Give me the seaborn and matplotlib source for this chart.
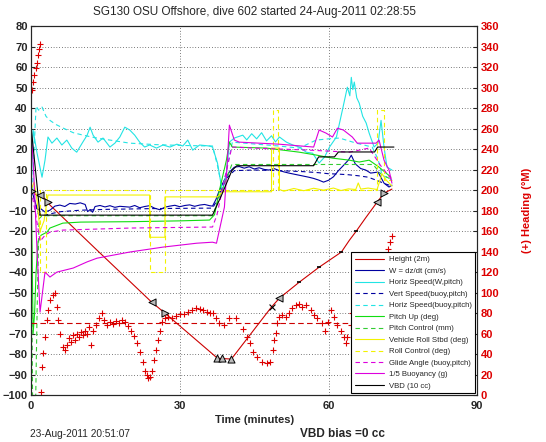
import matplotlib
matplotlib.use("Agg")
import matplotlib.pyplot as plt
import seaborn as sns

# ---- data (time in minutes, left-axis units) ----
height_t = [0, 0.8, 2.4, 3.4, 3.8, 13.3, 24.3, 27.0, 37.6, 40.4, 48.5, 50.1,
            54.1, 58.1, 62.6, 64.2, 65.6, 67.5, 69.8, 71.2, 72.8]
height_v = [0, -2, -3.4, -5.9, -7.3, -29.3, -54.6, -60, -82, -82.4, -57, -52.7,
            -44.9, -37.6, -30.2, -24.5, -20, -13.5, -5.9, -1.5, 0.5]

w_t = [0, 0.4, 1.0, 1.4, 1.8, 2.8, 3.8, 4.8, 5.8, 6.8,
       7.8, 8.9, 9.9, 10.9, 11.4, 11.9, 12.4, 12.9, 13.9, 14.9,
       15.9, 16.9, 17.9, 18.9, 19.9, 20.9, 21.9, 22.9, 23.9, 24.9,
       26, 27, 28, 29, 30, 31, 32, 33, 34, 35,
       36, 36.6, 37.3, 38, 39, 40, 41, 42, 43, 44,
       45, 46, 47, 48, 49, 50, 51, 52, 53, 54,
       55, 56, 57, 58, 59, 60, 61, 62, 63, 64,
       64.6, 65.4, 66.5, 67.5, 68.5, 70, 71.2, 72.2, 72.8]
w_v = [0, -2.4, -7.3, -9.8, -8.8, -10.7, -9.8, -7.8, -7.3, -8.0,
       -6.5, -6.8, -6.2, -7.0, -10.5, -9.5, -10.8, -8.0, -7.5, -8.2,
       -7.6, -8.4, -7.9, -8.1, -8.3, -7.5, -8.6, -8.0, -7.6, -8.8,
       -9.6, -8.3, -7.8, -7.4, -8.1, -7.5, -7.2, -7.9, -7.3, -7.0,
       -7.6, -7.8, -4.5, 0.0, 5.0, 8.8, 11.2, 11.5, 10.7, 11.4,
       10.3, 10.9, 10.1, 9.8, 10.5, 9.6, 8.9, 8.3, 7.8, 7.3,
       6.8, 6.3, 5.7, 4.9, 3.9, 4.8, 6.5, 9.5, 12.0, 14.6,
       17.0, 12.8, 10.5, 9.8, 8.3, 8.8, 3.4, 1.5, 2.4]

hspd_t = [0, 0.4, 1.2, 2.2, 2.8, 3.4, 4.2, 5.2, 6.2, 7.2,
          8.2, 9.2, 10.3, 11.3, 11.9, 12.5, 13.5, 14.5, 15.9, 16.9,
          17.9, 18.9, 19.9, 20.9, 21.9, 22.9, 23.9, 25.3, 26.6, 28.0,
          29.4, 30.6, 31.6, 32.6, 34.0, 36.0, 36.6, 37.6, 38.6, 39.4,
          40.0, 41.0, 42.7, 43.5, 44.5, 45.5, 46.5, 47.5, 48.5, 49.3,
          50.1, 51.5, 52.8, 54.1, 55.5, 56.8, 58.1, 59.2, 60.2, 61.6,
          62.8, 63.8, 64.3, 64.6, 64.9, 65.2, 65.7, 66.2, 66.9, 67.6,
          68.2, 69.2, 70.0, 70.6, 71.2, 71.8, 72.8]
hspd_v = [0, 29.3, 18, 6.3, 14.6, 25.9, 22.9, 25.4, 22, 24.4,
          20.5, 18.5, 22.9, 26.8, 30.7, 26.8, 23.4, 25.4, 21, 22.9,
          25.9, 30.7, 29.3, 26.8, 23.4, 21, 22, 20.5, 22, 21,
          22.4, 21.5, 24.4, 19.5, 22, 21.5, 21, 13.2, -1, 8.3,
          23.4, 25.4, 26.8, 24.5, 27.5, 25.0, 28.0, 24.0, 26.5, 23.5,
          25.9, 23.4, 22.0, 21, 18.5, 18, 13.2, 16.1, 21, 25.9,
          39, 50.2, 46, 55, 49, 52.7, 45, 42.4, 36, 32.7,
          27.8, 21, 22.9, 34, 21, 11.2, 9.8]

vsb_t = [0, 0.5, 1.0, 1.5, 2.5, 4, 6, 10, 15, 20,
         25, 30, 35, 36.6, 37.5, 38.5, 39.5, 41, 45, 50,
         55, 58, 60, 62, 64, 66, 68, 70, 71.5, 72.8]
vsb_v = [0, -3, -8, -12, -12.5, -11.5, -10.5, -9.8, -9.4, -9.2,
         -9.0, -8.9, -8.8, -8.8, -5, 1, 6, 9.5, 9.8, 9.5,
         9.0, 8.5, 8.0, 7.8, 7.5, 7.0, 6.3, 4.5, 3.0, 2.0]

hsb_t = [0.3, 0.6, 1.0, 1.5, 2.2, 3.0, 3.8, 5.0, 6.5, 8.5,
         10.5, 13, 15.9, 19.9, 25, 30, 36.6, 37.6, 38.6, 39.6,
         40.6, 45, 50, 54.1, 57.5, 60, 62.2, 65.6, 68.8, 70.0,
         70.8, 72.8]
hsb_v = [0, 20, 41, 39, 40.5, 36, 34, 32, 30.2, 28,
         26.8, 25.5, 24.4, 22.9, 22.2, 21.8, 21.5, 12, 0, 12,
         23.4, 22.5, 21.5, 20.5, 24.4, 25.0, 25.4, 22.9, 21, 15,
         7.3, 4.9]

pitch_t = [0, 0.2, 0.4, 0.7, 1.0, 1.4, 2.0, 3.2, 3.8, 6.4,
           10, 20, 30, 36.0, 37.0, 38.0, 39.4, 40.0, 40.6, 47.5,
           54.1, 57.5, 60.8, 64.2, 66.2, 68.2, 70.2, 72.6]
pitch_v = [0, -30, -70, -60, -40, -25, -22, -20.5, -18.5, -16.1,
           -15.6, -15.4, -15.0, -14.6, -12, 0, 14.6, 23.4, 21, 20.5,
           18.5, 17.1, 15.6, 14.6, 13.7, 14.6, 11.2, 6.3]

pctl_t = [0, 0.3, 0.9, 1.2, 1.6, 2.2, 36.6, 38.5, 40.5, 69.0, 70.5, 72.8]
pctl_v = [0, -105, -105, -60, -14, -12.5, -12.5, 0, 12.5, 12.5, 8, 5]

roll_t = [0, 0.6, 1.2, 1.8, 2.6, 3.4, 23.9, 23.9, 27.0, 27.0,
          37.6, 38.6, 48.5, 48.5, 50.1, 50.1, 51, 53, 55, 57,
          59, 61, 62.5, 64, 65.5, 66, 66.5, 68, 69.8, 70.8, 71.6, 72.8]
roll_v = [0, 3.9, -5, -20, -15, -2.4, -2.4, -23, -23, -3.3,
          -3.3, -0.8, -0.8, 20.5, 20.5, 0.3, -0.5, 0.8, -0.3, 0.9,
          0.0, 1.0, -0.2, 0.6, 0.3, 3.5, 0.5, 1.0, 0.3, 8, 5, 2]

rctl_t = [0, 1.8, 1.8, 3.0, 3.0, 23.9, 23.9, 27.0, 27.0, 37.6,
          48.7, 48.7, 49.9, 49.9, 69.8, 69.8, 71.2, 71.2, 72.8]
rctl_v = [0, 0, -40, -40, 0.2, 0.2, -40, -40, 0.2, 0.2,
          0.2, 39, 39, 0.2, 0.2, 39, 39, 5, 5]

glide_t = [0, 0.8, 1.8, 2.8, 3.8, 6.4, 20, 36.6, 37.5, 39,
           40.5, 45, 56.1, 64.2, 68.2, 70.5, 72.8]
glide_v = [0, -10, -25, -22, -20.5, -19.5, -18.5, -18, -12, 5,
           21, 20.5, 19.5, 18.5, 20.5, 12, 5]

buoy_t = [0, 0.5, 1.2, 1.8, 2.8, 3.8, 5.2, 8.5, 11.3, 13.3,
          19.9, 26.6, 33.4, 36.6, 37.4, 39.0, 39.6, 40.0, 41.0, 42.0,
          50.0, 57.0, 58.1, 59.5, 60.8, 61.8, 63.0, 64.8, 65.8, 69.6,
          70.2, 71.2, 72.2, 72.8]
buoy_v = [30, 10, -30, -59.5, -40, -42.4, -40, -38, -35, -33.2,
          -30.2, -27.8, -25.9, -25.4, -25.9, -8.3, 14.6, 31.7, 24.4, 23.4,
          22.4, 21, 29.3, 27.8, 25.9, 30.2, 29.3, 25.9, 22.9, 22.9,
          24.4, 14.6, 9.8, 3.4]

vbd_t = [0, 1.8, 36.6, 38.5, 40.5, 41.5, 57.0, 58.0, 61.2, 62.0, 69.3, 69.9, 73.2]
vbd_v = [30.7, -12.2, -12.2, -2, 9.5, 11.9, 11.9, 16.2, 16.2, 18.6, 18.6, 21, 21]

# heading (right axis, degrees magnetic)
head_t = [0.2, 0.4, 0.6, 1.0, 1.2, 1.4, 1.6, 1.8, 2.0, 2.2,
          2.4, 2.8, 3.2, 3.4, 3.8, 4.4, 4.8, 5.2, 5.4, 5.8,
          6.4, 6.8, 7.2, 7.6, 8.0, 8.5, 8.9, 9.3, 9.7, 10.1,
          10.5, 10.9, 11.3, 11.7, 12.1, 12.5, 13.1, 13.7, 14.3, 14.7,
          15.3, 15.9, 16.5, 17.1, 17.7, 18.3, 18.9, 19.5, 20.1, 20.7,
          21.3, 21.9, 22.5, 22.9, 23.3, 23.5, 23.9, 24.3, 24.7, 25.2,
          25.6, 26.0, 26.4, 27.0, 27.6, 28.4, 29.2, 30.0, 30.8, 31.6,
          32.4, 33.2, 34.0, 34.6, 35.4, 36.0, 36.6, 37.4, 38.0, 39.0,
          40.0, 41.4, 42.7, 43.5, 44.1, 44.7, 45.5, 46.5, 47.5, 48.1,
          48.7, 49.1, 49.5, 49.7, 50.1, 50.7, 51.5, 52.1, 52.7, 53.5,
          54.1, 54.7, 55.5, 56.5, 57.1, 57.7, 58.6, 59.2, 59.8, 60.6,
          61.2, 61.8, 62.6, 63.2, 63.6, 63.8, 64.6, 64.8, 65.4, 66.2,
          67.2, 68.2, 69.2, 70.2, 71.2, 72.0, 72.4, 72.8]
head_h = [298, 305, 312, 319, 324, 332, 338, 343, 3, 27,
          41, 57, 73, 83, 93, 98, 100, 86, 73, 60,
          47, 44, 49, 56, 52, 59, 54, 60, 57, 62,
          59, 63, 60, 66, 49, 63, 68, 75, 80, 73,
          68, 71, 69, 72, 70, 73, 71, 67, 63, 58,
          51, 42, 32, 24, 20, 17, 18, 24, 34, 44,
          54, 63, 71, 75, 76, 75, 77, 79, 79, 81,
          83, 85, 84, 83, 81, 80, 80, 75, 70, 68,
          75, 75, 65, 57, 51, 42, 37, 32, 31, 32,
          44, 54, 61, 70, 76, 78, 76, 80, 85, 88,
          89, 86, 88, 83, 78, 75, 70, 63, 71, 83,
          76, 68, 63, 57, 51, 57, 68, 80, 95, 100,
          90, 95, 105, 110, 125, 143, 149, 155]
head_ref_t = [0, 72.8]
head_ref_h = [70, 70]

# event markers on the height trace
tri_left_t = [1.8, 24.3, 50.1, 69.8]
tri_left_v = [-2.4, -54.6, -52.7, -5.9]
tri_right_t = [0.2, 3.4, 27.0, 71.2]
tri_right_v = [-0.5, -5.9, -60, -1.5]
tri_up_t = [37.6, 38.6, 40.4]
tri_up_v = [-82, -82, -82.4]
cross_t = [48.5]
cross_v = [-57]
dot_t = [54.1, 58.1, 62.6, 65.6]
dot_v = [-44.9, -37.6, -30.2, -20]

# ---- plotting ----
sns.set_style("white")
plt.rcParams["font.family"] = ["Liberation Sans", "DejaVu Sans"]
plt.rcParams["font.weight"] = "bold"
plt.rcParams["axes.linewidth"] = 0.8

fig = plt.figure(figsize=(5.46, 4.42), dpi=100)
ax = fig.add_axes([0.057, 0.106, 0.817, 0.835])

lw = 0.8
dash = (0, (4, 3))
series = [
    (height_t, height_v, "#cc0000", "-", "Height (2m)"),
    (w_t, w_v, "#0000a0", "-", "W = dz/dt (cm/s)"),
    (hspd_t, hspd_v, "#22e4e4", "-", "Horiz Speed(W,pitch)"),
    (vsb_t, vsb_v, "#0000a0", dash, "Vert Speed(buoy,pitch)"),
    (hsb_t, hsb_v, "#22e4e4", dash, "Horiz Speed(buoy,pitch)"),
    (pitch_t, pitch_v, "#11dd11", "-", "Pitch Up (deg)"),
    (pctl_t, pctl_v, "#33cc33", dash, "Pitch Control (mm)"),
    (roll_t, roll_v, "#f2f200", "-", "Vehicle Roll Stbd (deg)"),
    (rctl_t, rctl_v, "#f2f200", dash, "Roll Control (deg)"),
    (glide_t, glide_v, "#dd00dd", dash, "Glide Angle (buoy,pitch)"),
    (buoy_t, buoy_v, "#dd00dd", "-", "1/5 Buoyancy (g)"),
    (vbd_t, vbd_v, "black", "-", "VBD (10 cc)"),
]
for t, v, c, ls, lab in series:
    sns.lineplot(x=t, y=v, ax=ax, color=c, linestyle=ls, linewidth=lw,
                 estimator=None, sort=False, label=lab)

handles, labels = ax.get_legend_handles_labels()
if ax.get_legend() is not None:
    ax.get_legend().remove()

mk = dict(ax=ax, color="#bbbbbb", edgecolor="black", s=26, linewidth=0.7,
          zorder=5, legend=False)
sns.scatterplot(x=tri_left_t, y=tri_left_v, marker="<", **mk)
sns.scatterplot(x=tri_right_t, y=tri_right_v, marker=">", **mk)
sns.scatterplot(x=tri_up_t, y=tri_up_v, marker="^", **mk)
sns.scatterplot(x=cross_t, y=cross_v, marker="x", ax=ax, color="black",
                s=18, linewidth=0.8, zorder=5, legend=False)
sns.scatterplot(x=dot_t, y=dot_v, marker="_", ax=ax, color="black",
                s=10, linewidth=1.2, zorder=5, legend=False)

ax.set_xlim(0, 90)
ax.set_ylim(-100, 80)
ax.set_xticks([0, 30, 60, 90])
ax.set_yticks([-100, -90, -80, -70, -60, -50, -40, -30, -20, -10,
               0, 10, 20, 30, 40, 50, 60, 70, 80])
ax.grid(True, color="black", linestyle=(0, (1, 3)), linewidth=0.5)
ax.set_axisbelow(True)
ax.tick_params(direction="in", length=3, labelsize=8)
ax.tick_params(axis="x", pad=4)
ax.tick_params(axis="y", pad=2.5)
ax.set_xlabel("Time (minutes)", fontsize=8, fontweight="bold", labelpad=3)
ax.set_ylabel("")
ax.set_title("SG130 OSU Offshore, dive 602 started 24-Aug-2011 02:28:55",
             fontsize=8.5, fontweight="normal", pad=8)

ax2 = ax.twinx()
sns.lineplot(x=head_ref_t, y=head_ref_h, ax=ax2, color="#cc0000",
             linestyle=(0, (5, 3)), linewidth=0.8, estimator=None)
sns.scatterplot(x=head_t, y=head_h, ax=ax2, marker="+", color="#dd0000",
                s=16, linewidth=0.8, legend=False)
ax2.set_ylim(0, 360)
ax2.set_yticks(list(range(0, 361, 20)))
ax2.tick_params(direction="in", length=3, labelsize=8, pad=2.5,
                labelcolor="#dd0000")
ax2.set_ylabel("(+) Heading (\u00b0M)", color="#dd0000", fontsize=8,
               fontweight="bold", labelpad=16)
ax2.grid(False)

leg = ax2.legend(handles, labels, loc="lower right", frameon=True,
                 prop={"size": 5.6, "weight": "normal"},
                 fancybox=False, edgecolor="black",
                 handlelength=3.8, handletextpad=0.6, labelspacing=0.52,
                 borderpad=0.45, borderaxespad=0.25, framealpha=1)
leg.get_frame().set_linewidth(0.8)
leg.set_zorder(20)

fig.text(0.055, 0.012, "23-Aug-2011 20:51:07", fontsize=7.3,
         fontweight="normal")
fig.text(0.55, 0.012, "VBD bias =0 cc", fontsize=8.5, fontweight="bold")

fig.savefig("out.png", dpi=100)
